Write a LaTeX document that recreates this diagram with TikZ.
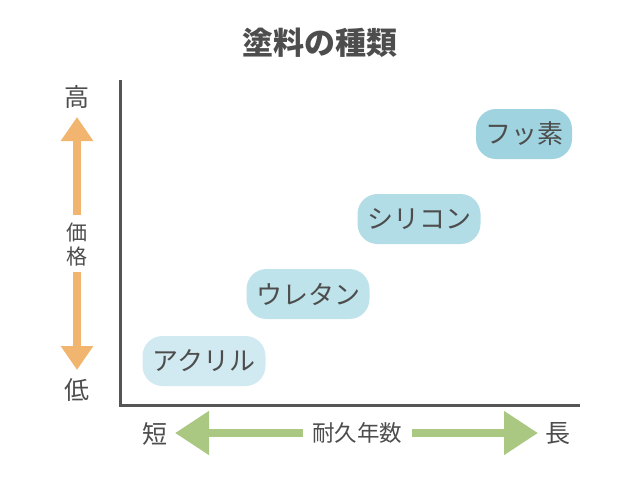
\documentclass[tikz,border=0pt]{standalone}
\usepackage{fontspec}
\setmainfont{Noto Sans CJK JP}
\usetikzlibrary{arrows.meta}
\definecolor{axisgray}{HTML}{555555}
\definecolor{txtgray}{HTML}{4D4D4D}
\definecolor{orangeA}{HTML}{F1B570}
\definecolor{greenA}{HTML}{AAC881}
\definecolor{boxA}{HTML}{9ED3DF}
\definecolor{boxB}{HTML}{B2DDE6}
\definecolor{boxC}{HTML}{BEE3EA}
\definecolor{boxD}{HTML}{D1EAF1}
\tikzset{
  paint/.style={rounded corners=20pt, minimum width=123pt, minimum height=50pt, inner sep=0pt, text=txtgray, font=\fontsize{26}{30}\selectfont},
  axislabel/.style={text=txtgray, font=\fontsize{25}{28}\selectfont, inner sep=0pt},
  orangearrow/.style={draw=orangeA, line width=8pt, -{Triangle[width=31pt,length=24pt]}},
  greenarrow/.style={draw=greenA, line width=8pt, -{Triangle[width=42pt,length=34pt]}},
  axisline/.style={draw=axisgray, line width=3pt}
}
\begin{document}
\begin{tikzpicture}[x=1pt,y=-1pt]
\useasboundingbox (0,0) rectangle (640,480);
\node[text=txtgray, font=\fontsize{31}{34}\selectfont\bfseries] (title) at (320,43) {塗料の種類};
% axes
\coordinate (top) at (120,80);
\coordinate (origin) at (120,405);
\coordinate (right) at (580,405);
\draw[axisline] (top) -- (origin) -- (right);
% boxes
\node[paint, fill=boxA, minimum width=96pt] (fuso) at (524,134) {フッ素};
\node[paint, fill=boxB] (silicon) at (419,219) {シリコン};
\node[paint, fill=boxC] (urethane) at (308,294) {ウレタン};
\node[paint, fill=boxD] (acryl) at (204,361) {アクリル};
% price axis
\node[axislabel] (high) at (77,97) {高};
\node[axislabel] (low) at (77,390) {低};
\node[text=txtgray, font=\fontsize{21}{24}\selectfont, align=center, inner sep=0pt] (price) at (77,245) {価\\格};
\coordinate (pUpStart) at (77,215);
\coordinate (pUpEnd) at (77,117);
\coordinate (pDnStart) at (77,272);
\coordinate (pDnEnd) at (77,370);
\draw[orangearrow] (pUpStart) -- (pUpEnd);
\draw[orangearrow] (pDnStart) -- (pDnEnd);
% durability axis
\node[axislabel] (short) at (155,434) {短};
\node[axislabel] (long) at (558,434) {長};
\node[text=txtgray, font=\fontsize{22.5}{26}\selectfont, inner sep=0pt] (dur) at (357,433) {耐久年数};
\coordinate (dLStart) at (303,433);
\coordinate (dLEnd) at (175,433);
\coordinate (dRStart) at (412,433);
\coordinate (dREnd) at (538,433);
\draw[greenarrow] (dLStart) -- (dLEnd);
\draw[greenarrow] (dRStart) -- (dREnd);
\end{tikzpicture}
\end{document}
